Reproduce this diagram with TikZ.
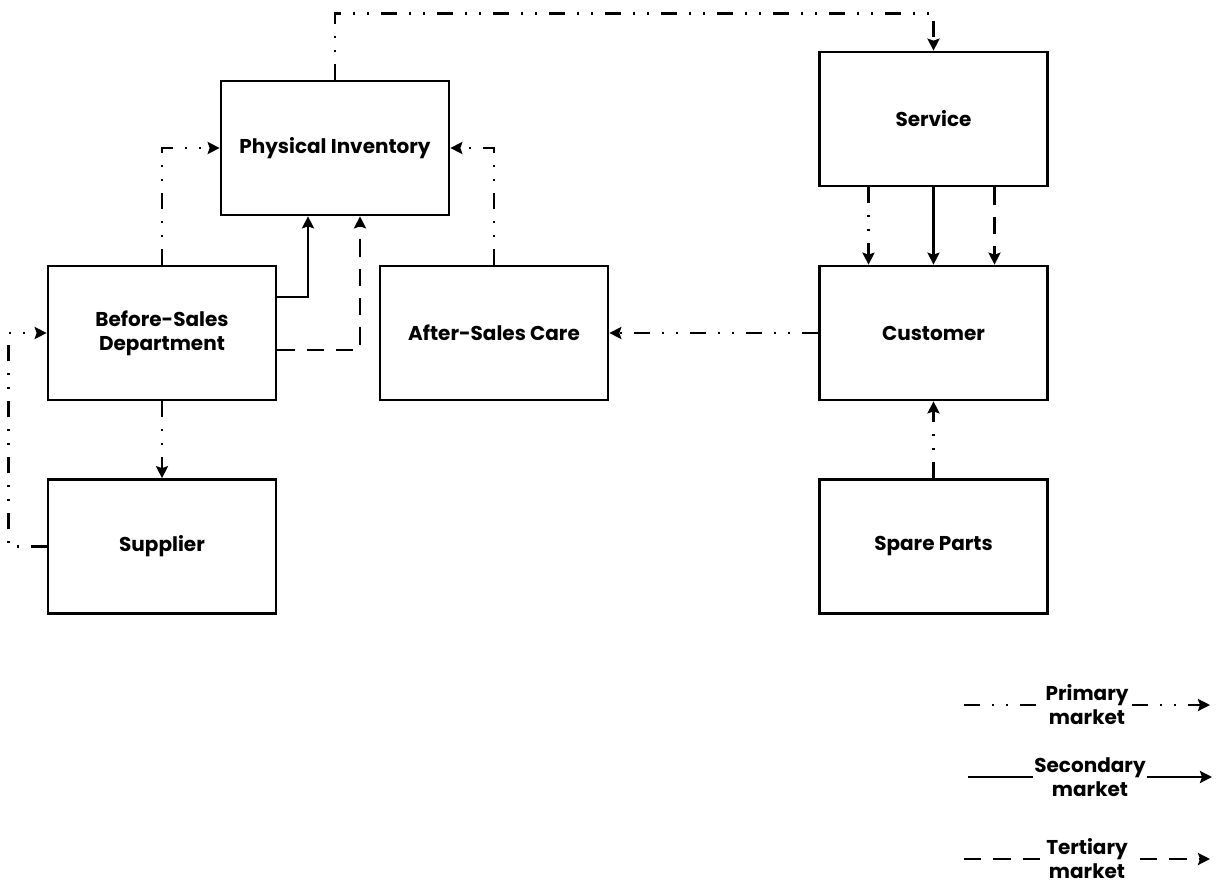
\documentclass[tikz,border=0pt]{standalone}
\usepackage{fontspec}
\setmainfont{Poppins}
\usetikzlibrary{arrows.meta,calc}
\begin{document}
\begin{tikzpicture}[x=0.75pt,y=-0.75pt,
  box/.style={draw,line width=2pt,minimum width=228*0.75pt,minimum height=134*0.75pt,
    align=center,font=\fontsize{15}{18}\selectfont\bfseries,inner sep=0pt},
  conn/.style={line width=2pt},
  tip/.style={-{Stealth[length=9pt,width=9pt,inset=1.5pt]}},
  primary/.style={conn,dash pattern=on 12pt off 9pt on 1.5pt off 9pt on 1.5pt off 9pt},
  secondary/.style={conn},
  tertiary/.style={conn,dash pattern=on 13pt off 9pt},
  legtext/.style={fill=white,inner sep=1pt,align=center,font=\fontsize{15}{18}\selectfont\bfseries}
]
\useasboundingbox (0,0) rectangle (1220,885);

% boxes
\node[box] (pi)  at (335,148)   {Physical Inventory};
\node[box] (svc) at (933.5,119) {Service};
\node[box] (bs)  at (162,333)   {Before-Sales\\Department};
\node[box] (asc) at (494,333)   {After-Sales Care};
\node[box] (cus) at (933.5,333) {Customer};
\node[box] (sup) at (162,546.5) {Supplier};
\node[box] (sp)  at (933.5,546.5) {Spare Parts};

% connectors
\draw[primary,tip] (pi.north) -- ++(0,-66) -| (svc.north);
\draw[primary,tip] (bs.north) |- (pi.west);
\draw[primary,tip] (asc.north) |- (pi.east);
\draw[secondary,tip] ($(bs.east)+(0,-36)$) -| ($(pi.south)+(-27,0)$);
\draw[tertiary,tip] ($(bs.east)+(0,17)$) -| ($(pi.south)+(25,0)$);
\draw[primary,tip] (bs.south) -- (sup.north);
\draw[primary,tip] (sup.west) -- ++(-38,0) |- (bs.west);
\draw[primary,tip] ($(svc.south)+(-65,0)$) -- ($(cus.north)+(-65,0)$);
\draw[secondary,tip] (svc.south) -- (cus.north);
\draw[tertiary,tip] ($(svc.south)+(61,0)$) -- ($(cus.north)+(61,0)$);
\draw[primary,tip] (cus.west) -- (asc.east);
\draw[primary,tip] (sp.north) -- (cus.south);

% legend
\coordinate (l1a) at (964,705);  \coordinate (l1b) at (1210,705);
\coordinate (l2a) at (968,777);  \coordinate (l2b) at (1212,777);
\coordinate (l3a) at (964,859);  \coordinate (l3b) at (1210,859);
\draw[primary,tip] (l1a) -- node[legtext] (k1) {Primary\\market} (l1b);
\draw[secondary,tip] (l2a) -- node[legtext] (k2) {Secondary\\market} (l2b);
\draw[tertiary,tip] (l3a) -- node[legtext] (k3) {Tertiary\\market} (l3b);
\end{tikzpicture}
\end{document}
